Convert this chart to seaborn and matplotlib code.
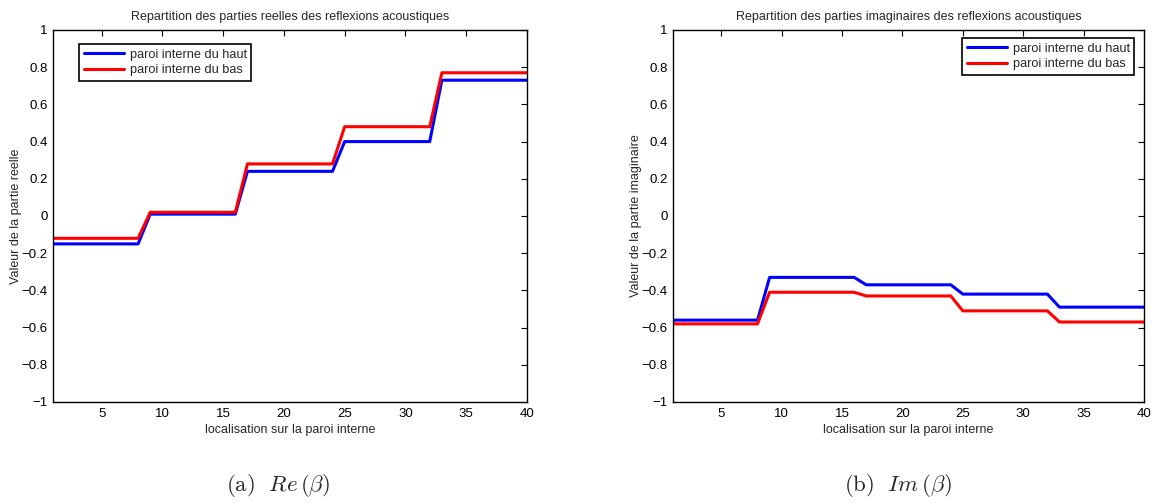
import numpy as np
import pandas as pd
import matplotlib
matplotlib.use("Agg")
import matplotlib.pyplot as plt
import seaborn as sns

# positions along the inner wall and the 5 levels (one per block of 8 points)
positions = np.arange(1, 41)
re_haut_levels = [-0.15, 0.01, 0.24, 0.40, 0.73]
re_bas_levels = [-0.12, 0.02, 0.28, 0.48, 0.77]
im_haut_levels = [-0.56, -0.33, -0.37, -0.42, -0.49]
im_bas_levels = [-0.58, -0.41, -0.43, -0.51, -0.57]
series_names = ["paroi interne du haut", "paroi interne du bas"]
y_ticks = np.round(np.arange(-1, 1.01, 0.2), 1)
x_ticks = [5, 10, 15, 20, 25, 30, 35, 40]


def make_df(haut, bas):
    df = pd.DataFrame({
        "x": np.concatenate([positions, positions]),
        "y": np.concatenate([np.repeat(haut, 8), np.repeat(bas, 8)]),
        "serie": [series_names[0]] * 40 + [series_names[1]] * 40,
    })
    return df


def fmt_tick(v):
    if abs(v) < 1e-9:
        return "0"
    s = ("%g" % v)
    return s.replace("-", "\u2212")


sns.set_theme(style="white")
plt.rcParams["font.family"] = ["Liberation Sans", "DejaVu Sans"]
plt.rcParams["mathtext.fontset"] = "cm"
plt.rcParams["axes.edgecolor"] = "black"
plt.rcParams["axes.linewidth"] = 1.0

fig = plt.figure(figsize=(11.53, 5.03), dpi=100)
ax1 = fig.add_axes([0.046, 0.2008, 0.411, 0.7396])
ax2 = fig.add_axes([0.5837, 0.2008, 0.4085, 0.7396])

palette = {series_names[0]: "#0000ff", series_names[1]: "#ff0000"}

panels = [
    (ax1, make_df(re_haut_levels, re_bas_levels),
     "Repartition des parties reelles des reflexions acoustiques",
     "Valeur de la partie reelle", ("upper left", (0.055, 0.962))),
    (ax2, make_df(im_haut_levels, im_bas_levels),
     "Repartition des parties imaginaires des reflexions acoustiques",
     "Valeur de la partie imaginaire", ("upper right", (0.979, 0.978))),
]

for ax, df, title, ylabel, (loc, anchor) in panels:
    sns.lineplot(data=df, x="x", y="y", hue="serie", palette=palette,
                 linewidth=2.2, ax=ax)
    ax.set_xlim(1, 40)
    ax.set_ylim(-1, 1)
    ax.set_xticks(x_ticks)
    ax.set_xticklabels([str(t) for t in x_ticks])
    ax.set_yticks(y_ticks)
    ax.set_yticklabels([fmt_tick(t) for t in y_ticks])
    ax.tick_params(direction="in", length=4, width=0.8, top=True, right=True,
                   labelsize=9.5, pad=4, colors="black")
    ax.set_title(title, fontsize=9, pad=7)
    ax.set_xlabel("localisation sur la paroi interne", fontsize=9, labelpad=3)
    ax.set_ylabel(ylabel, fontsize=9, labelpad=-0.5)
    for sp in ax.spines.values():
        sp.set_visible(True)
        sp.set_color("black")
    leg = ax.legend(loc=loc, bbox_to_anchor=anchor,
                    fontsize=9.2, fancybox=False, framealpha=1,
                    edgecolor="black", handlelength=3.2,
                    borderpad=0.35, labelspacing=0.28, handletextpad=0.4,
                    borderaxespad=0)
    leg.get_frame().set_linewidth(1.2)

fig.text(0.241, 0.035, r"$\mathrm{(a)}\ \ Re\,(\beta)$", ha="center", va="center",
         fontsize=16.5)
fig.text(0.779, 0.035, r"$\mathrm{(b)}\ \ Im\,(\beta)$", ha="center", va="center",
         fontsize=16.5)

fig.savefig("out.png", dpi=100)
